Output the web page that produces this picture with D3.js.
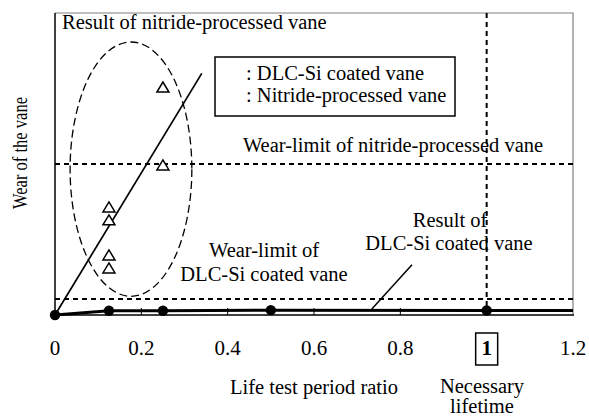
<!DOCTYPE html>
<html>
<head>
<meta charset="utf-8">
<script src="https://cdn.jsdelivr.net/npm/d3@7"></script>
<style>
  body { margin: 0; background: #fff; }
  svg text { font-family: "Liberation Serif", "Times New Roman", serif; font-size: 20.5px; fill: #000; }
</style>
</head>
<body>
<div id="chart"></div>
<script>
// life test period ratio ticks
var xTicks = [0, 0.2, 0.4, 0.6, 0.8, 1, 1.2]
var xTickLabels = ['0', '0.2', '0.4', '0.6', '0.8', '1', '1.2']

// DLC-Si coated vane (wear, relative units)
var dlcRatio = [0, 0.125, 0.25, 0.5, 1.0]
var dlcWear = [0, 0.014, 0.014, 0.016, 0.015]

// nitride-processed vane
var nitRatio = [0.125, 0.125, 0.125, 0.125, 0.25, 0.25]
var nitWear = [0.358, 0.315, 0.199, 0.156, 0.497, 0.755]
var nitTrendRatio = [0, 0.34]
var nitTrendWear = [0, 0.80]

// wear limits and necessary lifetime
var nitLimit = 0.5
var dlcLimit = 0.053
var necessaryLife = 1

// dashed group ellipse around nitride results: centre and radii
var groupEllipse = [0.176, 0.483, 0.141, 0.421]
// leader line to "Result of DLC-Si coated vane"
var leaderRatio = [0.734, 0.827]
var leaderWear = [0.02, 0.166]

var legendItems = [': DLC-Si coated vane', ': Nitride-processed vane']

var width = 589, height = 419
var padL = 55, padR = 573, padT = 13, padB = 315

var svg = d3.select('#chart').append('svg')
    .attr('width', width)
    .attr('height', height)

var x = d3.scaleLinear().domain([0, 1.2]).range([padL, padR])
var y = d3.scaleLinear().domain([0, 1]).range([padB, padT])

// frame (top and right in gray)
svg.append('path')
    .attr('d', 'M' + padL + ',' + padT + 'H' + padR + 'V' + padB)
    .attr('fill', 'none')
    .attr('stroke', '#808080')
    .attr('stroke-width', 1.2)

// limit lines
var dotted = svg.append('g')
    .attr('stroke', '#000')
    .attr('stroke-width', 2)
    .attr('stroke-dasharray', '5,4')
dotted.append('line')
    .attr('x1', padL).attr('x2', padR)
    .attr('y1', y(nitLimit)).attr('y2', y(nitLimit))
dotted.append('line')
    .attr('x1', padL).attr('x2', padR)
    .attr('y1', y(dlcLimit)).attr('y2', y(dlcLimit))
dotted.append('line')
    .attr('x1', x(necessaryLife)).attr('x2', x(necessaryLife))
    .attr('y1', padT).attr('y2', padB)

// dashed ellipse
svg.append('ellipse')
    .attr('cx', x(groupEllipse[0]))
    .attr('cy', y(groupEllipse[1]))
    .attr('rx', x(groupEllipse[2]) - x(0))
    .attr('ry', y(0) - y(groupEllipse[3]))
    .attr('fill', 'none')
    .attr('stroke', '#000')
    .attr('stroke-width', 1.3)
    .attr('stroke-dasharray', '8,4')

// axes
svg.append('line')
    .attr('x1', padL).attr('x2', padL)
    .attr('y1', padT).attr('y2', padB)
    .attr('stroke', '#000').attr('stroke-width', 1.5)
svg.append('line')
    .attr('x1', padL).attr('x2', padR + 1)
    .attr('y1', padB).attr('y2', padB)
    .attr('stroke', '#000').attr('stroke-width', 1.5)

svg.append('g').selectAll('line')
    .data(xTicks.slice(1, -1))
    .join('line')
    .attr('x1', (d) => x(d)).attr('x2', (d) => x(d))
    .attr('y1', padB).attr('y2', padB - 7)
    .attr('stroke', '#000')
    .attr('stroke-width', 1)

// tick labels
svg.append('g').selectAll('text')
    .data(xTicks)
    .join('text')
    .attr('x', (d) => x(d))
    .attr('y', 355)
    .attr('text-anchor', 'middle')
    .style('font-size', '21px')
    .style('font-weight', (d) => (d === necessaryLife ? 'bold' : null))
    .text((d, i) => xTickLabels[i])

svg.append('rect')
    .attr('x', x(necessaryLife) - 11)
    .attr('y', 333)
    .attr('width', 22)
    .attr('height', 32)
    .attr('fill', 'none')
    .attr('stroke', '#000')
    .attr('stroke-width', 1.5)

// nitride trend line
svg.append('line')
    .attr('x1', x(nitTrendRatio[0])).attr('y1', y(nitTrendWear[0]))
    .attr('x2', x(nitTrendRatio[1])).attr('y2', y(nitTrendWear[1]))
    .attr('stroke', '#000')
    .attr('stroke-width', 1.7)

// leader line
svg.append('line')
    .attr('x1', x(leaderRatio[0])).attr('y1', y(leaderWear[0]))
    .attr('x2', x(leaderRatio[1])).attr('y2', y(leaderWear[1]))
    .attr('stroke', '#000')
    .attr('stroke-width', 1.5)

// DLC-Si line, carried on to the end of the axis
var dlcPts = dlcRatio.map((d, i) => [d, dlcWear[i]])
dlcPts.push([1.2, dlcWear[dlcWear.length - 1]])
svg.append('path')
    .attr('d', d3.line().x((d) => x(d[0])).y((d) => y(d[1]))(dlcPts))
    .attr('fill', 'none')
    .attr('stroke', '#000')
    .attr('stroke-width', 3)

svg.append('g').selectAll('circle')
    .data(dlcRatio)
    .join('circle')
    .attr('cx', (d) => x(d))
    .attr('cy', (d, i) => y(dlcWear[i]))
    .attr('r', 5.2)
    .attr('fill', '#000')

// nitride triangles
svg.append('g').selectAll('path')
    .data(nitRatio)
    .join('path')
    .attr('transform', (d, i) => 'translate(' + x(d) + ',' + y(nitWear[i]) + ')')
    .attr('d', 'M0,-5L6,5L-6,5Z')
    .attr('fill', '#fff')
    .attr('stroke', '#000')
    .attr('stroke-width', 1.5)

// legend
svg.append('rect')
    .attr('x', 215).attr('y', 57)
    .attr('width', 240).attr('height', 59)
    .attr('fill', '#fff')
    .attr('stroke', '#000')
    .attr('stroke-width', 1.5)
svg.append('g').selectAll('text')
    .data(legendItems)
    .join('text')
    .attr('x', 246)
    .attr('y', (d, i) => 80 + i * 22)
    .text((d) => d)

// annotations
function label(txt, tx, ty, anchor) {
    svg.append('text')
        .attr('x', tx).attr('y', ty)
        .attr('text-anchor', anchor || 'start')
        .text(txt)
}
label('Result of nitride-processed vane', 62, 29)
label('Wear-limit of nitride-processed vane', 393, 152, 'middle')
label('Result of', 450, 227, 'middle')
label('DLC-Si coated vane', 449, 250, 'middle')
label('Wear-limit of', 264, 257, 'middle')
label('DLC-Si coated vane', 264, 281, 'middle')
label('Life test period ratio', 314, 394, 'middle')
label('Necessary', 482, 393, 'middle')
label('lifetime', 482, 413, 'middle')

svg.append('text')
    .attr('transform', 'translate(27,153) rotate(-90)')
    .attr('text-anchor', 'middle')
    .attr('textLength', 112)
    .attr('lengthAdjust', 'spacingAndGlyphs')
    .style('font-size', '22px')
    .text('Wear of the vane')
</script>
</body>
</html>
